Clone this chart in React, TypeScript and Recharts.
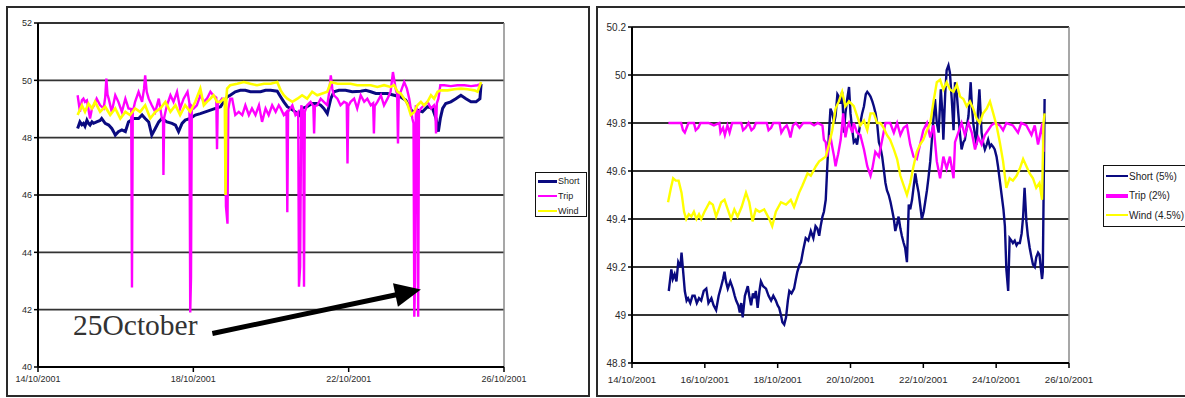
import React from 'react';
import { LineChart, Line, XAxis, YAxis, CartesianGrid, ReferenceLine } from 'recharts';

type P = [number, number];

// ---------- LEFT CHART (day of October 2001, frequency Hz) ----------
const leftShort: P[] = [
  [15.02,48.32],[15.08,48.55],[15.13,48.45],[15.17,48.50],[15.21,48.40],[15.26,48.61],[15.30,48.50],[15.34,48.44],[15.39,48.55],[15.43,48.50],
  [15.51,48.55],[15.60,48.60],[15.64,48.67],[15.73,48.50],[15.82,48.44],[15.90,48.32],[15.95,48.20],[15.99,48.09],[16.07,48.21],[16.16,48.27],
  [16.25,48.21],[16.33,48.55],[16.46,48.67],[16.59,48.67],[16.68,48.79],[16.76,48.67],[16.85,48.55],[16.93,48.09],[17.02,48.32],[17.11,48.55],
  [17.19,48.67],[17.32,48.55],[17.45,48.50],[17.54,48.44],[17.62,48.21],[17.71,48.50],[17.79,48.61],[17.92,48.67],[18.05,48.79],[18.18,48.84],
  [18.31,48.90],[18.44,48.96],[18.57,49.02],[18.70,49.08],[18.78,49.25],[18.87,49.42],[18.95,49.48],[19.08,49.60],[19.21,49.65],[19.34,49.65],
  [19.47,49.60],[19.60,49.60],[19.73,49.60],[19.86,49.65],[19.99,49.65],[20.16,49.62],[20.25,49.42],[20.33,49.25],[20.42,49.08],[20.50,49.02],
  [20.63,48.90],[20.72,48.79],[20.80,49.02],[20.93,49.08],[21.06,49.19],[21.19,49.19],[21.28,49.13],[21.36,49.02],[21.45,48.84],[21.54,49.36],
  [21.62,49.60],[21.75,49.65],[21.92,49.65],[22.09,49.60],[22.31,49.62],[22.44,49.65],[22.57,49.60],[22.70,49.54],[22.83,49.54],[23.00,49.54],
  [23.17,49.48],[23.34,49.42],[23.47,49.31],[23.56,49.08],[23.64,48.90],[23.77,48.96],[23.90,48.90],[24.03,49.08],[24.16,49.02],[24.25,48.67],
  [24.31,48.21],[24.36,48.67],[24.42,49.02],[24.50,49.19],[24.63,49.25],[24.76,49.36],[24.89,49.48],[25.02,49.36],[25.15,49.25],[25.28,49.25],
  [25.38,49.36],[25.41,49.88],
];
const leftTrip: P[] = [
  [15.02,49.48],[15.05,49.20],[15.08,48.90],[15.13,49.30],[15.17,49.36],[15.21,49.25],[15.26,49.30],[15.34,48.67],[15.39,49.02],[15.43,49.10],
  [15.51,49.36],[15.60,49.13],[15.69,49.02],[15.73,49.40],[15.76,50.06],[15.79,49.50],[15.82,49.36],[15.90,48.90],[15.99,49.48],[16.07,49.25],
  [16.16,48.90],[16.25,49.36],[16.33,49.02],[16.40,49.00],[16.42,42.77],[16.44,48.90],[16.50,49.25],[16.59,49.60],[16.68,49.25],[16.73,49.70],
  [16.76,50.17],[16.80,49.60],[16.85,49.36],[16.93,49.13],[17.02,48.90],[17.11,49.36],[17.19,48.67],[17.22,48.60],[17.23,46.70],[17.25,48.70],
  [17.32,49.13],[17.41,49.48],[17.49,49.25],[17.58,49.60],[17.66,49.02],[17.75,49.36],[17.85,49.60],[17.90,49.20],[17.92,41.90],[17.94,43.10],
  [17.96,49.10],[18.01,49.02],[18.09,49.13],[18.18,49.48],[18.27,49.25],[18.35,49.36],[18.44,49.60],[18.51,49.48],[18.59,49.40],[18.61,47.60],
  [18.63,49.20],[18.68,49.25],[18.74,49.36],[18.82,49.30],[18.84,45.60],[18.88,45.00],[18.90,49.00],[18.95,49.36],[19.00,49.36],[19.08,48.79],
  [19.17,48.90],[19.26,48.79],[19.34,49.13],[19.43,48.79],[19.51,49.02],[19.60,48.79],[19.69,49.13],[19.77,48.55],[19.86,49.02],[19.94,48.79],
  [20.03,49.13],[20.12,48.90],[20.20,49.13],[20.25,49.02],[20.33,48.79],[20.40,48.90],[20.42,45.40],[20.44,48.90],[20.50,49.02],[20.55,49.13],
  [20.63,48.79],[20.70,48.90],[20.72,42.80],[20.75,43.50],[20.78,49.13],[20.83,48.90],[20.85,42.80],[20.87,48.90],[20.93,49.13],[21.02,49.25],
  [21.09,49.10],[21.11,48.15],[21.13,49.10],[21.19,49.13],[21.28,49.36],[21.36,49.25],[21.45,49.13],[21.50,49.60],[21.54,50.17],[21.58,49.70],
  [21.62,49.48],[21.71,49.36],[21.79,49.13],[21.88,49.25],[21.95,49.20],[21.97,47.10],[21.99,49.10],[22.05,49.25],[22.14,49.36],[22.22,49.02],
  [22.31,49.48],[22.40,49.25],[22.48,49.36],[22.57,49.13],[22.63,49.20],[22.65,48.15],[22.67,49.10],[22.74,49.25],[22.83,49.48],[22.91,49.13],
  [23.00,49.36],[23.08,49.60],[23.14,50.29],[23.21,49.71],[23.25,49.50],[23.27,47.80],[23.29,49.50],[23.34,49.60],[23.43,49.94],[23.50,49.71],
  [23.56,49.36],[23.64,48.67],[23.67,48.50],[23.69,41.75],[23.71,43.00],[23.73,49.13],[23.77,48.90],[23.79,41.75],[23.81,48.90],[23.86,49.02],
  [23.94,49.13],[24.03,49.25],[24.12,49.02],[24.20,49.13],[24.23,49.00],[24.25,48.15],[24.27,49.20],[24.31,49.36],[24.36,49.83],[24.46,49.83],
  [24.63,49.80],[24.80,49.83],[24.98,49.83],[25.15,49.80],[25.32,49.83],[25.41,49.88],
];
const leftWind: P[] = [
  [15.02,48.79],[15.13,49.13],[15.21,48.90],[15.30,49.19],[15.39,49.02],[15.47,49.25],[15.60,48.90],[15.73,49.08],[15.86,48.79],[15.99,49.02],
  [16.12,48.67],[16.25,48.90],[16.37,48.79],[16.50,49.02],[16.63,48.90],[16.76,49.13],[16.89,48.67],[17.02,48.90],[17.15,49.02],[17.28,49.25],
  [17.41,48.90],[17.54,49.13],[17.66,48.79],[17.79,49.13],[17.92,48.90],[18.05,49.25],[18.18,49.71],[18.27,49.13],[18.35,49.25],[18.44,49.36],
  [18.52,49.48],[18.61,49.25],[18.70,49.25],[18.78,49.36],[18.81,49.30],[18.83,46.00],[18.85,49.40],[18.87,49.71],[18.95,49.83],[19.13,49.88],
  [19.30,49.94],[19.47,49.88],[19.64,49.83],[19.82,49.88],[19.99,49.88],[20.16,49.94],[20.25,49.65],[20.33,49.48],[20.42,49.36],[20.55,49.25],
  [20.68,49.36],[20.80,49.48],[20.93,49.36],[21.06,49.60],[21.19,49.48],[21.32,49.54],[21.45,49.60],[21.54,49.94],[21.71,49.88],[21.88,49.88],
  [22.05,49.88],[22.22,49.83],[22.40,49.83],[22.57,49.83],[22.74,49.77],[22.91,49.83],[23.08,49.77],[23.17,49.83],[23.26,49.60],[23.34,49.54],
  [23.43,49.36],[23.51,49.19],[23.60,48.79],[23.69,48.90],[23.77,49.13],[23.86,49.25],[23.94,49.13],[24.03,49.25],[24.12,49.48],[24.20,49.36],
  [24.29,49.60],[24.37,49.65],[24.55,49.65],[24.72,49.69],[24.89,49.71],[25.06,49.69],[25.24,49.65],[25.32,49.60],[25.41,49.94],
];

// ---------- RIGHT CHART ----------
const rightShort: P[] = [
  [15.01,49.10],[15.08,49.19],[15.12,49.15],[15.17,49.17],[15.22,49.14],[15.27,49.22],[15.33,49.20],[15.36,49.26],[15.40,49.19],[15.45,49.10],
  [15.50,49.06],[15.54,49.07],[15.60,49.05],[15.66,49.08],[15.72,49.08],[15.78,49.05],[15.84,49.07],[15.90,49.06],[15.97,49.10],[16.04,49.11],
  [16.10,49.05],[16.18,49.07],[16.24,49.04],[16.31,49.02],[16.38,49.08],[16.45,49.12],[16.50,49.15],[16.54,49.18],[16.58,49.14],[16.63,49.11],
  [16.70,49.14],[16.77,49.11],[16.82,49.08],[16.86,49.06],[16.92,49.04],[16.96,49.01],[17.00,49.05],[17.04,48.99],[17.10,49.08],[17.18,49.12],
  [17.22,49.08],[17.27,49.04],[17.32,49.09],[17.36,49.07],[17.40,49.10],[17.45,49.03],[17.50,49.10],[17.54,49.14],[17.60,49.12],[17.68,49.11],
  [17.75,49.08],[17.82,49.06],[17.88,49.08],[17.95,49.06],[18.00,49.04],[18.04,49.03],[18.09,49.00],[18.13,48.97],[18.18,48.96],[18.23,48.99],
  [18.28,49.06],[18.32,49.10],[18.38,49.09],[18.45,49.11],[18.50,49.15],[18.54,49.18],[18.60,49.21],[18.64,49.22],[18.70,49.27],[18.77,49.32],
  [18.84,49.31],[18.91,49.35],[18.98,49.32],[19.04,49.37],[19.09,49.36],[19.14,49.33],[19.18,49.37],[19.23,49.41],[19.27,49.43],[19.32,49.48],
  [19.36,49.61],[19.41,49.76],[19.45,49.86],[19.50,49.84],[19.55,49.80],[19.59,49.83],[19.64,49.92],[19.68,49.91],[19.72,49.88],[19.77,49.93],
  [19.82,49.76],[19.86,49.84],[19.91,49.90],[19.96,49.95],[20.00,49.84],[20.05,49.77],[20.09,49.72],[20.14,49.73],[20.18,49.71],[20.23,49.76],
  [20.27,49.80],[20.32,49.84],[20.37,49.87],[20.42,49.92],[20.46,49.93],[20.51,49.92],[20.55,49.91],[20.60,49.89],[20.64,49.87],[20.69,49.84],
  [20.73,49.80],[20.78,49.72],[20.82,49.70],[20.87,49.66],[20.92,49.60],[20.96,49.55],[21.00,49.52],[21.05,49.50],[21.10,49.47],[21.14,49.44],
  [21.19,49.40],[21.23,49.35],[21.28,49.38],[21.32,49.41],[21.37,49.36],[21.41,49.33],[21.46,49.30],[21.50,49.28],[21.55,49.22],[21.60,49.46],
  [21.64,49.44],[21.69,49.48],[21.73,49.53],[21.78,49.59],[21.82,49.55],[21.87,49.51],[21.92,49.45],[21.96,49.40],[22.01,49.43],[22.05,49.47],
  [22.10,49.52],[22.14,49.57],[22.19,49.64],[22.23,49.72],[22.28,49.82],[22.32,49.90],[22.37,49.80],[22.42,49.76],[22.48,49.94],[22.52,49.85],
  [22.55,49.73],[22.60,49.92],[22.64,50.02],[22.69,50.04],[22.73,50.01],[22.78,49.90],[22.83,49.77],[22.87,49.97],[22.92,49.92],[22.96,49.84],
  [23.01,49.75],[23.05,49.69],[23.10,49.72],[23.14,49.73],[23.19,49.78],[23.24,49.83],[23.30,49.97],[23.33,49.88],[23.37,49.80],[23.42,49.75],
  [23.46,49.71],[23.50,49.85],[23.54,49.94],[23.60,49.76],[23.64,49.72],[23.69,49.69],[23.74,49.71],[23.78,49.73],[23.83,49.70],[23.87,49.71],
  [23.92,49.70],[23.96,49.69],[24.01,49.66],[24.05,49.62],[24.10,49.56],[24.15,49.50],[24.20,49.44],[24.24,49.37],[24.28,49.19],[24.33,49.10],
  [24.37,49.32],[24.42,49.31],[24.46,49.30],[24.51,49.31],[24.56,49.29],[24.60,49.30],[24.65,49.30],[24.70,49.34],[24.74,49.41],[24.78,49.53],
  [24.83,49.39],[24.87,49.33],[24.92,49.28],[24.97,49.24],[25.01,49.21],[25.06,49.20],[25.10,49.24],[25.15,49.26],[25.19,49.25],[25.23,49.19],
  [25.26,49.15],[25.28,49.18],[25.30,49.46],[25.33,49.90],
];
const rightTrip: P[] = [
  [15.00,49.80],[15.20,49.80],[15.35,49.80],[15.40,49.77],[15.45,49.76],[15.50,49.78],[15.55,49.80],[15.70,49.80],[15.75,49.77],[15.82,49.78],
  [15.88,49.80],[16.10,49.80],[16.25,49.79],[16.40,49.80],[16.43,49.76],[16.50,49.78],[16.55,49.75],[16.62,49.79],[16.68,49.76],[16.75,49.80],
  [17.00,49.80],[17.05,49.77],[17.12,49.78],[17.20,49.80],[17.28,49.77],[17.35,49.78],[17.40,49.80],[17.70,49.80],[17.75,49.77],[17.82,49.78],
  [17.88,49.80],[18.05,49.80],[18.10,49.76],[18.18,49.78],[18.25,49.79],[18.30,49.77],[18.35,49.74],[18.42,49.79],[18.50,49.80],[18.60,49.78],
  [18.70,49.80],[18.80,49.80],[18.90,49.80],[19.00,49.79],[19.10,49.80],[19.23,49.79],[19.27,49.73],[19.32,49.72],[19.36,49.66],[19.40,49.70],
  [19.44,49.75],[19.50,49.70],[19.55,49.66],[19.59,49.62],[19.63,49.65],[19.66,49.67],[19.73,49.73],[19.80,49.84],[19.86,49.74],[19.91,49.78],
  [19.96,49.80],[20.05,49.76],[20.09,49.80],[20.18,49.76],[20.27,49.75],[20.37,49.69],[20.46,49.62],[20.55,49.58],[20.60,49.61],[20.68,49.68],
  [20.78,49.66],[20.87,49.73],[20.96,49.80],[21.09,49.80],[21.19,49.76],[21.28,49.80],[21.37,49.75],[21.46,49.78],[21.55,49.79],[21.64,49.71],
  [21.73,49.66],[21.82,49.65],[21.91,49.71],[22.00,49.77],[22.10,49.80],[22.19,49.74],[22.28,49.79],[22.37,49.64],[22.46,49.57],[22.55,49.66],
  [22.64,49.61],[22.73,49.66],[22.83,49.57],[22.87,49.72],[22.96,49.76],[23.05,49.80],[23.14,49.75],[23.24,49.80],[23.33,49.76],[23.42,49.69],
  [23.51,49.74],[23.60,49.71],[23.69,49.75],[23.78,49.77],[23.87,49.79],[23.96,49.80],[24.10,49.79],[24.19,49.77],[24.28,49.80],[24.46,49.79],
  [24.60,49.76],[24.69,49.80],[24.83,49.79],[24.97,49.75],[25.06,49.79],[25.15,49.71],[25.19,49.74],[25.27,49.80],[25.30,49.68],
];
const rightWind: P[] = [
  [14.99,49.47],[15.07,49.53],[15.13,49.57],[15.20,49.56],[15.28,49.56],[15.36,49.51],[15.43,49.43],[15.49,49.40],[15.56,49.42],[15.63,49.41],
  [15.70,49.43],[15.77,49.40],[15.84,49.42],[15.90,49.40],[15.99,49.43],[16.06,49.45],[16.13,49.47],[16.22,49.46],[16.31,49.41],[16.38,49.44],
  [16.45,49.47],[16.54,49.48],[16.63,49.44],[16.72,49.40],[16.81,49.44],[16.90,49.41],[17.01,49.45],[17.13,49.51],[17.22,49.47],[17.31,49.39],
  [17.40,49.44],[17.50,49.43],[17.63,49.44],[17.77,49.40],[17.85,49.37],[17.95,49.43],[18.09,49.47],[18.23,49.46],[18.36,49.48],[18.45,49.45],
  [18.59,49.51],[18.68,49.54],[18.82,49.59],[18.91,49.58],[19.05,49.62],[19.14,49.64],[19.23,49.65],[19.32,49.66],[19.41,49.71],[19.50,49.77],
  [19.59,49.86],[19.68,49.89],[19.77,49.93],[19.86,49.87],[19.96,49.89],[20.09,49.87],[20.18,49.83],[20.27,49.79],[20.37,49.81],[20.46,49.77],
  [20.55,49.84],[20.64,49.84],[20.73,49.80],[20.82,49.80],[20.91,49.78],[21.00,49.75],[21.09,49.73],[21.19,49.69],[21.28,49.65],[21.37,49.58],
  [21.46,49.54],[21.55,49.50],[21.64,49.55],[21.73,49.62],[21.82,49.68],[21.91,49.71],[22.00,49.73],[22.10,49.77],[22.19,49.80],[22.28,49.89],
  [22.37,49.97],[22.46,49.98],[22.55,49.94],[22.64,49.97],[22.73,49.94],[22.83,49.93],[22.92,49.96],[23.01,49.91],[23.10,49.90],[23.19,49.87],
  [23.28,49.89],[23.37,49.86],[23.46,49.82],[23.55,49.80],[23.64,49.84],[23.74,49.86],[23.83,49.89],[23.92,49.84],[24.01,49.79],[24.10,49.72],
  [24.19,49.64],[24.28,49.53],[24.37,49.57],[24.46,49.56],[24.56,49.58],[24.65,49.61],[24.74,49.65],[24.83,49.62],[24.92,49.59],[25.01,49.57],
  [25.10,49.53],[25.19,49.55],[25.26,49.48],[25.30,49.80],[25.33,49.84],
];

// ---------- AXES / LABELS ----------
const leftYTicks = [40, 42, 44, 46, 48, 50, 52];
const leftYLabels = ['40', '42', '44', '46', '48', '50', '52'];
const leftXTicks = [14, 18, 22, 26];
const leftXLabels = ['14/10/2001', '18/10/2001', '22/10/2001', '26/10/2001'];
const rightYTicks = [48.8, 49, 49.2, 49.4, 49.6, 49.8, 50, 50.2];
const rightYLabels = ['48.8', '49', '49.2', '49.4', '49.6', '49.8', '50', '50.2'];
const rightXTicks = [14, 16, 18, 20, 22, 24, 26];
const rightXLabels = ['14/10/2001', '16/10/2001', '18/10/2001', '20/10/2001', '22/10/2001', '24/10/2001', '26/10/2001'];

const leftLegend = ['Short', 'Trip', 'Wind'];
const rightLegend = ['Short (5%)', 'Trip (2%)', 'Wind (4.5%)'];
const annotationText = '25October';
const arrowFrom: P = [18.49, 41.17];
const arrowTo: P = [23.86, 42.70];

const NAVY = '#0a0a80';
const MAGENTA = '#ff00ff';
const YELLOW = '#ffff00';
const FONT = '"Liberation Sans", Arial, sans-serif';

const rows = (arr: P[]) => arr.map(([t, v]) => ({ t, v }));

const ArrowShape = (props: any) => {
  const { x1, y1, x2, y2 } = props;
  const dx = x2 - x1;
  const dy = y2 - y1;
  const len = Math.sqrt(dx * dx + dy * dy) || 1;
  const ux = dx / len;
  const uy = dy / len;
  const headLen = 26;
  const halfW = 12;
  const bx = x2 - ux * headLen;
  const by = y2 - uy * headLen;
  const px = -uy;
  const py = ux;
  return (
    <g>
      <line x1={x1} y1={y1} x2={bx + ux * 2} y2={by + uy * 2} stroke="#000" strokeWidth={5} />
      <polygon
        points={`${x2},${y2} ${bx + px * halfW},${by + py * halfW} ${bx - px * halfW},${by - py * halfW}`}
        fill="#000"
      />
    </g>
  );
};

const LegendBox = ({ items, left, top, width, height, rowGap, firstY, fontSize, lineW, widths }: any) => {
  const colors = [NAVY, MAGENTA, YELLOW];
  return (
    <div
      style={{
        position: 'absolute', left, top, width, height, border: '1.5px solid #111',
        background: '#fff', boxSizing: 'border-box', fontFamily: FONT, fontSize, color: '#222',
      }}
    >
      {items.map((s: string, i: number) => (
        <div key={s} style={{ position: 'absolute', left: 2, top: firstY + i * rowGap - 6, height: 12, display: 'flex', alignItems: 'center', whiteSpace: 'nowrap' }}>
          <div style={{ width: lineW, height: widths[i], background: colors[i], marginRight: 1 }} />
          <span>{s}</span>
        </div>
      ))}
    </div>
  );
};

export default function App() {
  const tickStyle = { fontFamily: FONT, fill: '#2a2a2a' };
  return (
    <div style={{ position: 'absolute', left: 0, top: 0, width: 1185, height: 398, background: '#fff', overflow: 'hidden' }}>
      {/* frames */}
      <div style={{ position: 'absolute', left: 6, top: 6, width: 584, height: 391, border: '2px solid #2a2a2a', boxSizing: 'border-box' }} />
      <div style={{ position: 'absolute', left: 596, top: 6, width: 620, height: 391, border: '2px solid #2a2a2a', boxSizing: 'border-box' }} />

      {/* LEFT CHART */}
      <div style={{ position: 'absolute', left: 0, top: 0 }}>
        <LineChart width={590} height={398} margin={{ top: 23, right: 86, left: 8, bottom: 11 }}>
          <CartesianGrid vertical={false} stroke="#333" strokeWidth={1.8} />
          <XAxis
            type="number" dataKey="t" domain={[14, 26]} ticks={leftXTicks} allowDataOverflow
            tickFormatter={(v: number) => leftXLabels[leftXTicks.indexOf(v)] ?? ''}
            height={20} tickSize={5} tickMargin={4}
            tick={{ ...tickStyle, fontSize: 9 }}
            axisLine={{ stroke: '#000', strokeWidth: 2 }} tickLine={{ stroke: '#000', strokeWidth: 1.5 }}
          />
          <YAxis
            type="number" domain={[40, 52]} ticks={leftYTicks} allowDataOverflow interval={0}
            tickFormatter={(v: number) => leftYLabels[leftYTicks.indexOf(v)] ?? ''}
            width={30} tickSize={4} tickMargin={2}
            tick={{ ...tickStyle, fontSize: 9 }}
            axisLine={{ stroke: '#000', strokeWidth: 2 }} tickLine={{ stroke: '#000', strokeWidth: 1.5 }}
          />
          <ReferenceLine x={26} stroke="#8a8a8a" strokeWidth={1.5} />
          <Line data={rows(leftShort)} dataKey="v" type="linear" dot={false} stroke={NAVY} strokeWidth={3} isAnimationActive={false} />
          <Line data={rows(leftTrip)} dataKey="v" type="linear" dot={false} stroke={MAGENTA} strokeWidth={2.4} isAnimationActive={false} />
          <Line data={rows(leftWind)} dataKey="v" type="linear" dot={false} stroke={YELLOW} strokeWidth={2.6} isAnimationActive={false} />
          <ReferenceLine
            segment={[{ x: arrowFrom[0], y: arrowFrom[1] }, { x: arrowTo[0], y: arrowTo[1] }]}
            stroke="#000" shape={ArrowShape} ifOverflow="visible"
          />
        </LineChart>
      </div>
      <svg style={{ position: 'absolute', left: 0, top: 0, pointerEvents: 'none' }} width={590} height={398}>
        <text x={73} y={335} fontFamily='"Liberation Serif", "Times New Roman", serif' fontSize={29.5} fill="#333">
          {annotationText}
        </text>
      </svg>
      <LegendBox items={leftLegend} left={535} top={172} width={52} height={45} rowGap={15} firstY={8} fontSize={9} lineW={19} widths={[3, 2, 1.5]} />

      {/* RIGHT CHART */}
      <div style={{ position: 'absolute', left: 590, top: 0 }}>
        <LineChart width={595} height={398} margin={{ top: 27, right: 116, left: 8, bottom: 15 }}>
          <CartesianGrid vertical={false} stroke="#333" strokeWidth={1.8} />
          <XAxis
            type="number" dataKey="t" domain={[14, 26]} ticks={rightXTicks} allowDataOverflow
            tickFormatter={(v: number) => rightXLabels[rightXTicks.indexOf(v)] ?? ''}
            height={20} tickSize={5} tickMargin={8}
            tick={{ ...tickStyle, fontSize: 9.7 }}
            axisLine={{ stroke: '#000', strokeWidth: 2 }} tickLine={{ stroke: '#000', strokeWidth: 1.5 }}
          />
          <YAxis
            type="number" domain={[48.8, 50.2]} ticks={rightYTicks} allowDataOverflow interval={0}
            tickFormatter={(v: number) => rightYLabels[rightYTicks.indexOf(v)] ?? ''}
            width={34} tickSize={4} tickMargin={2}
            tick={{ ...tickStyle, fontSize: 10 }}
            axisLine={{ stroke: '#000', strokeWidth: 2 }} tickLine={{ stroke: '#000', strokeWidth: 1.5 }}
          />
          <ReferenceLine x={26} stroke="#8a8a8a" strokeWidth={1.5} />
          <Line data={rows(rightShort)} dataKey="v" type="linear" dot={false} stroke={NAVY} strokeWidth={2.4} isAnimationActive={false} />
          <Line data={rows(rightTrip)} dataKey="v" type="linear" dot={false} stroke={MAGENTA} strokeWidth={2.4} isAnimationActive={false} />
          <Line data={rows(rightWind)} dataKey="v" type="linear" dot={false} stroke={YELLOW} strokeWidth={2.4} isAnimationActive={false} />
        </LineChart>
      </div>
      <LegendBox items={rightLegend} left={1103} top={165} width={100} height={62} rowGap={19.5} firstY={10} fontSize={10} lineW={22} widths={[2, 4, 2]} />
    </div>
  );
}
